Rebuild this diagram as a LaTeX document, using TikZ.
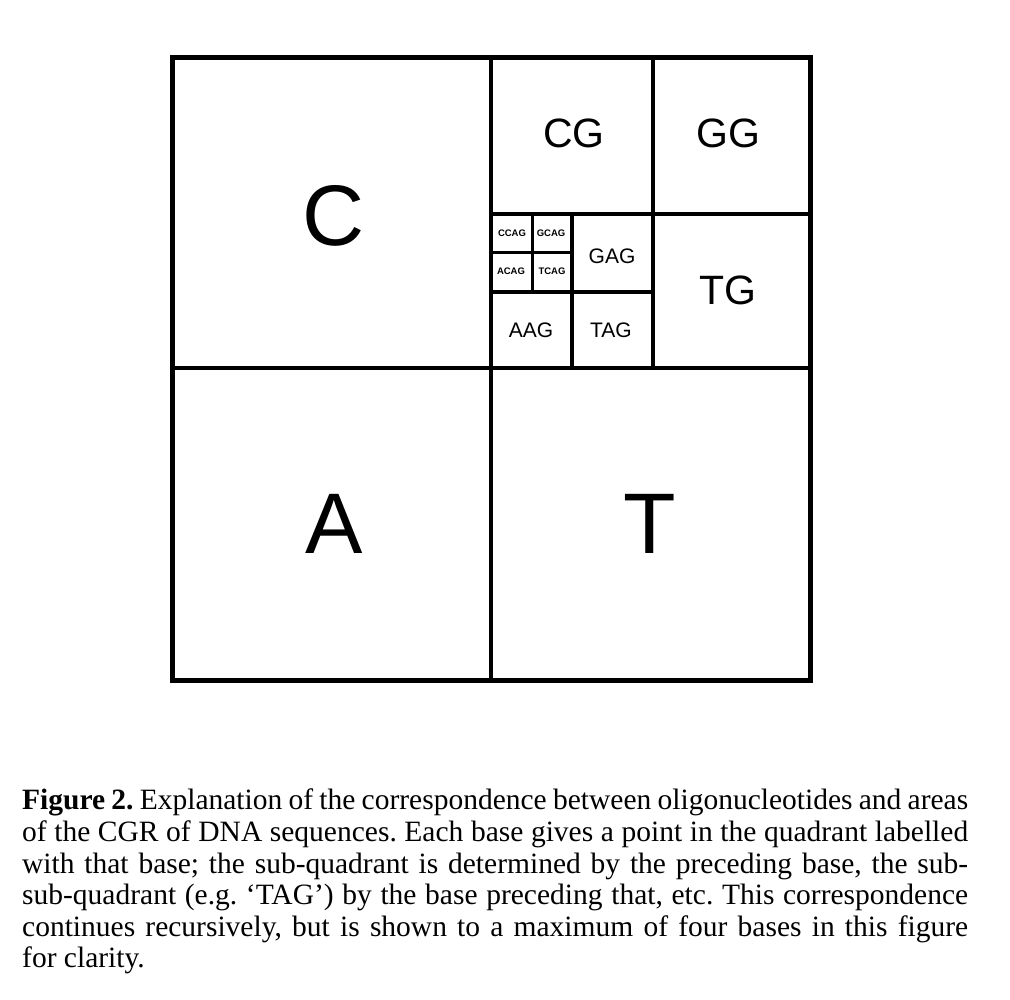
\documentclass[tikz,border=0pt]{standalone}
\usepackage{fontspec}
\setmainfont{Liberation Serif}
\newfontfamily\labelfont{Liberation Sans}
\tikzset{
  base/.style={font=\labelfont\fontsize{86}{86}\selectfont, inner sep=0pt},
  dimer/.style={font=\labelfont\fontsize{41}{41}\selectfont, inner sep=0pt},
  trimer/.style={font=\labelfont\fontsize{21}{21}\selectfont, inner sep=0pt},
  tetramer/.style={font=\labelfont\bfseries\fontsize{9.5}{9.5}\selectfont, inner sep=0pt},
}
\begin{document}
\begin{tikzpicture}[x=1pt,y=-1pt]
  \fill[white] (0,0) rectangle (1010,1000);
  \useasboundingbox (0,0) rectangle (1010,1000);
  % quadrants
  \draw[line width=5pt] (172,58) rectangle (810,680);
  \draw[line width=4pt] (491,58) -- (491,680) (172,368) -- (810,368);
  % G quadrant
  \draw[line width=4pt] (653,58) -- (653,368) (491,214) -- (810,214);
  % AG sub-quadrant
  \draw[line width=3.5pt] (572,214) -- (572,368) (491,292) -- (653,292);
  % CAG sub-sub-quadrant
  \draw[line width=3pt] (532,214) -- (532,292) (491,253) -- (572,253);
  \draw
    (334,216) node[base] (c){C}
    (334,524) node[base] (a){A}
    (650,524) node[base] (t){T}
    (574,133) node[dimer] (cg){CG}
    (728,133) node[dimer] (gg){GG}
    (728,290) node[dimer] (tg){TG}
    (612,256) node[trimer] (gag){GAG}
    (531,330) node[trimer] (aag){AAG}
    (611,330) node[trimer] (tag){TAG}
    (512,233) node[tetramer] (ccag){CCAG}
    (551,233) node[tetramer] (gcag){GCAG}
    (511,271) node[tetramer] (acag){ACAG}
    (552,271) node[tetramer] (tcag){TCAG};
  \node[anchor=north west, inner sep=0pt, text width=946pt, align=justify,
        font=\fontsize{29.5}{31.6}\selectfont] (caption) at (22,789)
    {\tolerance=10000 \frenchspacing \textbf{Figure 2.} Explanation of the correspondence between oligonucleotides and areas\linebreak
     of the CGR of DNA sequences. Each base gives a point in the quadrant labelled\linebreak
     with that base; the sub-quadrant is determined by the preceding base, the sub-\linebreak
     sub-quadrant (e.g.\ `TAG') by the base preceding that, etc. This correspondence\linebreak
     continues recursively, but is shown to a maximum of four bases in this figure\linebreak
     for clarity.};
\end{tikzpicture}
\end{document}
